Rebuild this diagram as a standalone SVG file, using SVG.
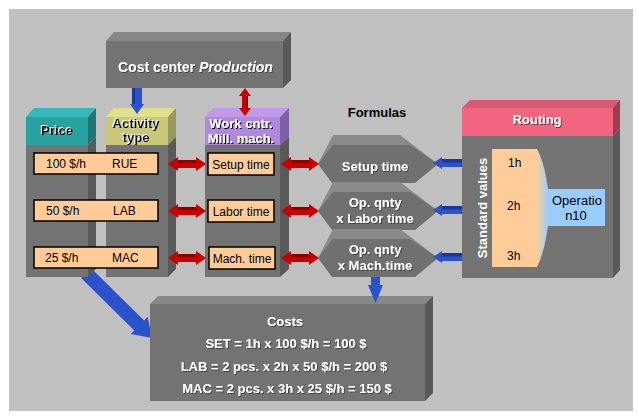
<svg xmlns="http://www.w3.org/2000/svg" width="639" height="418" viewBox="0 0 639 418">
<style>
.t{font-family:"Liberation Sans",Arial,sans-serif;}
.b{font-weight:bold;}
.w{fill:#fff;}
.k{fill:#000;}
.s12{font-size:12px;}
.s13{font-size:13px;}
.s14{font-size:14px;}
.front{fill:#737373;}
.side{fill:#595959;}
.top{fill:#878787;}
.box{fill:#ffcc99;stroke:#000;stroke-width:1.5;}
.red{fill:#c80000;}
.redd{fill:#8e0000;}
.blue{fill:#2a52cc;}
.blued{fill:#1c3894;}
.hexf{fill:#707070;}
.hext{fill:#8a8a8a;}
</style>
<defs>
<filter id="hl" x="-10%" y="-30%" width="120%" height="160%"><feDropShadow dx="-1" dy="-1" stdDeviation="0" flood-color="#fff" flood-opacity="1"/></filter>
<filter id="sh" x="-10%" y="-30%" width="120%" height="160%"><feDropShadow dx="1" dy="1" stdDeviation="0" flood-color="#000" flood-opacity="1"/></filter>
<filter id="sh2" x="-10%" y="-30%" width="120%" height="160%"><feDropShadow dx="1" dy="1" stdDeviation="0" flood-color="#3c3c3c" flood-opacity="0.9"/></filter>
<linearGradient id="fun" gradientUnits="userSpaceOnUse" x1="536" y1="0" x2="549" y2="0">
<stop offset="0" stop-color="#ffcc99"/>
<stop offset="1" stop-color="#99ccff"/>
</linearGradient>
<g id="redH">
<path class="red" d="M0,0 L10,-7 L10,-4 L28,-4 L28,-7 L38,0 L28,7 L28,4 L10,4 L10,7 Z"/>
<rect class="redd" x="10" y="-4" width="18" height="3"/>
</g>
<g id="blueL">
<path class="blue" d="M0,0 L9,-6 L9,-4 L29,-4 L29,4 L9,4 L9,6 Z"/>
<rect class="blued" x="9" y="-4" width="20" height="3.5"/>
</g>
</defs>

<rect x="9" y="9" width="624" height="402" fill="#c0c0c0"/>

<g id="connectors-back">
<path class="blue" d="M90.9,268 L144.1,320.4 L147.6,316.8 L152,338 L130.8,334 L134.3,330.4 L81.1,278 Z"/>
</g>

<g id="price">
<polygon points="26,117 34,108 96,108 88,117" fill="#36b9b9"/>
<rect x="26" y="117" width="62" height="28" fill="#2aa1a1"/>
<polygon points="88,117 96,108 96,137 88,145" fill="#1e7676"/>
<rect class="front" x="26" y="145" width="62" height="132"/>
<polygon class="side" points="88,145 96,137 96,269 88,277"/>
<text class="t b s13 k" x="57" y="135" text-anchor="middle" filter="url(#hl)">Price</text>
</g>

<g id="activity">
<polygon points="106,117 114,108 176,108 168,117" fill="#e1e08a"/>
<rect x="106" y="117" width="62" height="28" fill="#c9c87a"/>
<polygon points="168,117 176,108 176,137 168,145" fill="#99985c"/>
<rect class="front" x="106" y="145" width="62" height="132"/>
<polygon class="side" points="168,145 176,137 176,269 168,277"/>
<text class="t b s13 k" x="136" y="128" text-anchor="middle" filter="url(#hl)">Activity</text>
<text class="t b s13 k" x="136" y="142" text-anchor="middle" filter="url(#hl)">type</text>
</g>

<g id="workcenter">
<polygon points="205,117 213,108 289,108 280,117" fill="#c09ae8"/>
<rect x="205" y="117" width="75" height="28" fill="#b088e0"/>
<polygon points="280,117 289,108 289,137 280,145" fill="#7f60a8"/>
<rect class="front" x="205" y="145" width="75" height="132"/>
<polygon class="side" points="280,145 289,137 289,269 280,277"/>
<text class="t b s13 w" x="241" y="128" text-anchor="middle" filter="url(#sh)">Work cntr.</text>
<text class="t b s13 w" x="241" y="143" text-anchor="middle" filter="url(#sh)">Mill. mach.</text>
</g>

<g id="rates">
<rect class="box" x="34" y="153" width="124" height="21"/>
<text class="t s12 k" x="46" y="168">100 $/h</text>
<text class="t s12 k" x="112" y="168">RUE</text>
<rect class="box" x="34" y="200" width="124" height="21"/>
<text class="t s12 k" x="46" y="215">50 $/h</text>
<text class="t s12 k" x="113" y="215">LAB</text>
<rect class="box" x="34" y="247" width="124" height="21"/>
<text class="t s12 k" x="45" y="262">25 $/h</text>
<text class="t s12 k" x="112" y="262">MAC</text>
</g>

<g id="times">
<rect class="box" x="208" y="153" width="66" height="22"/>
<text class="t s12 k" x="241" y="169" text-anchor="middle">Setup time</text>
<rect class="box" x="208" y="200" width="66" height="22"/>
<text class="t s12 k" x="241" y="216" text-anchor="middle">Labor time</text>
<rect class="box" x="209" y="247" width="66" height="22"/>
<text class="t s12 k" x="242" y="263" text-anchor="middle">Mach. time</text>
</g>

<g id="costcenter">
<polygon class="top" points="106,41 114,32 291,32 283,41"/>
<rect class="front" x="106" y="41" width="177" height="47"/>
<polygon class="side" points="283,41 291,32 291,80 283,88"/>
<text class="t b s14 w" y="72" filter="url(#sh2)"><tspan x="118">Cost center</tspan><tspan x="199" font-style="italic">Production</tspan></text>
</g>

<g id="formulas">
<text class="t b s13 k" x="377" y="117" text-anchor="middle">Formulas</text>
</g>

<g id="connectors">
<use href="#redH" x="168" y="164"/>
<use href="#redH" x="168" y="211"/>
<use href="#redH" x="168" y="258"/>
<use href="#redH" x="281" y="164"/>
<use href="#redH" x="281" y="211"/>
<use href="#redH" x="281" y="258"/>
<path class="red" d="M245,88 L251,96 L248,96 L248,108 L251,108 L245,116 L239,108 L242,108 L242,96 L239,96 Z"/>
<rect class="redd" x="246" y="96" width="2" height="12"/>
<path class="blue" d="M132,88 L142,88 L142,104 L144,104 L137,114 L130,104 L132,104 Z"/>
<rect class="blued" x="132" y="88" width="3" height="16"/>
<rect class="blue" x="371" y="180" width="9" height="12"/>
<rect class="blue" x="371" y="227" width="9" height="12"/>
</g>

<g id="hex1">
<polygon class="hext" points="318,164 333,135 400,135 438,164"/>
<polygon class="hexf" points="318,164 333,145 410,145 438,164 415,183 332,183"/>
<text class="t b s13 w" x="375" y="171" text-anchor="middle" filter="url(#sh2)">Setup time</text>
</g>
<g id="hex2">
<polygon class="hext" points="318,211 333,182 400,182 438,211"/>
<polygon class="hexf" points="318,211 333,192 410,192 438,211 415,230 332,230"/>
<text class="t b s13 w" x="375" y="207" text-anchor="middle" filter="url(#sh2)">Op. qnty</text>
<text class="t b s13 w" x="375" y="223" text-anchor="middle" filter="url(#sh2)">x Labor time</text>
</g>
<g id="hex3">
<polygon class="hext" points="318,258 333,229 400,229 438,258"/>
<polygon class="hexf" points="318,258 333,239 410,239 438,258 415,277 332,277"/>
<text class="t b s13 w" x="375" y="254" text-anchor="middle" filter="url(#sh2)">Op. qnty</text>
<text class="t b s13 w" x="375" y="270" text-anchor="middle" filter="url(#sh2)">x Mach.time</text>
</g>

<g id="routing">
<polygon points="462,108 470,100 620,100 613,108" fill="#d65a72"/>
<rect x="462" y="108" width="151" height="28" fill="#f2647f"/>
<polygon points="613,108 620,100 620,128 613,136" fill="#9c3c4e"/>
<rect class="front" x="462" y="136" width="151" height="142"/>
<polygon class="side" points="613,136 620,128 620,270 613,278"/>
<text class="t b s13 w" x="537" y="124" text-anchor="middle" filter="url(#sh2)">Routing</text>
<rect x="492" y="149" width="45" height="118" fill="#ffcc99"/>
<path d="M536,149 L537,149 C543,160 546,175 548,189 L548,226 C546,240 543,255 537,267 L536,267 Z" fill="url(#fun)"/>
<rect x="547" y="189" width="58" height="37" fill="#99ccff"/>
<text class="t b s13 w" transform="translate(487,208) rotate(-90)" text-anchor="middle">Standard values</text>
<text class="t s12 k" x="508" y="167">1h</text>
<text class="t s12 k" x="507" y="210">2h</text>
<text class="t s12 k" x="507" y="260">3h</text>
<text class="t s13 k" x="552" y="205">Operatio</text>
<text class="t s13 k" x="576" y="220" text-anchor="middle">n10</text>
</g>

<g id="connectors-routing">
<use href="#blueL" x="433" y="163"/>
<use href="#blueL" x="433" y="210"/>
<use href="#blueL" x="433" y="257"/>
</g>

<g id="costs">
<polygon class="top" points="150,304 158,296 433,296 425,304"/>
<rect class="front" x="150" y="304" width="275" height="97"/>
<polygon class="side" points="425,304 433,296 433,393 425,401"/>
<text class="t b s13 w" x="285" y="326" text-anchor="middle" filter="url(#sh2)">Costs</text>
<text class="t b s13 w" x="286" y="348" text-anchor="middle" filter="url(#sh2)">SET = 1h x 100 $/h = 100 $</text>
<text class="t b s13 w" x="284" y="371" text-anchor="middle" filter="url(#sh2)">LAB = 2 pcs. x 2h x 50 $/h = 200 $</text>
<text class="t b s13 w" x="287" y="393" text-anchor="middle" filter="url(#sh2)">MAC = 2 pcs. x 3h x 25 $/h = 150 $</text>
</g>

<g id="connectors-costs">
<path class="blue" d="M371,277 L380,277 L380,285 L383,285 L375.5,303 L368,285 L371,285 Z"/>
</g>
</svg>
